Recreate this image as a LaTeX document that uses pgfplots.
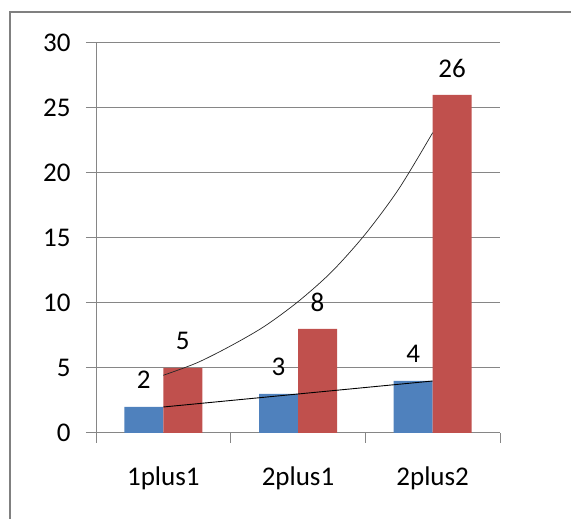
\documentclass[border=0pt]{standalone}
\usepackage{pgfplots}
\pgfplotsset{compat=1.18}
\usepackage{fontspec}
\setmainfont{Carlito}

\definecolor{xlblue}{RGB}{79,129,189}
\definecolor{xlred}{RGB}{192,80,77}
\definecolor{xlgrid}{RGB}{134,134,134}
\definecolor{xlframe}{RGB}{128,128,128}

\begin{document}
\begin{tikzpicture}
\useasboundingbox (0pt,0pt) rectangle (571pt,519pt);
\draw[xlframe, line width=2.5pt] (10pt,-5pt) -- (10pt,507pt) -- (580pt,507pt);
\begin{axis}[
  at={(96pt,86pt)}, anchor=south west,
  scale only axis, width=404pt, height=390pt,
  xmin=0.5, xmax=3.5, ymin=0, ymax=30,
  ytick={0,5,...,30},
  xtick={1,2,3}, xticklabels={1plus1,2plus1,2plus2},
  minor xtick={0.5,1.5,2.5,3.5},
  axis x line=bottom, axis y line=left,
  axis line style={xlgrid, line width=1pt, -},
  tick align=outside,
  major tick length=10pt, minor tick length=10pt,
  major x tick style={draw=none},
  minor x tick style={xlgrid, line width=1pt},
  major y tick style={xlgrid, line width=1pt},
  ymajorgrids, grid style={xlgrid, line width=1pt},
  /pgf/number format/assume math mode=true,
  tick label style={font=\fontsize{27}{32}\selectfont},
  yticklabel style={xshift=-12pt},
  xticklabel style={yshift=-20pt},
]
\addplot[ybar, bar width=39pt, bar shift=-19.5pt, fill=xlblue, draw=none,
  nodes near coords,
  every node near coord/.append style={font=\fontsize{27}{32}\selectfont, anchor=center, xshift=-19.5pt, yshift=27pt, black}]
  coordinates {(1,2) (2,3) (3,4)};
\addplot[ybar, bar width=39pt, bar shift=19.5pt, fill=xlred, draw=none,
  nodes near coords,
  every node near coord/.append style={font=\fontsize{27}{32}\selectfont, anchor=center, xshift=19.5pt, yshift=27pt, black}]
  coordinates {(1,5) (2,8) (3,26)};
% linear trend of the blue series
\addplot[black, line width=0.9pt] coordinates {(1,2) (3,4)};
% exponential trend of the red series
\addplot[black!85, line width=0.7pt, smooth] coordinates {
  (1,4.44) (1.25,5.4) (1.5,6.7) (1.75,8.2) (2,10.1)
  (2.25,12.4) (2.5,15.3) (2.75,18.8) (3,23.1)};
\end{axis}
\end{tikzpicture}
\end{document}
